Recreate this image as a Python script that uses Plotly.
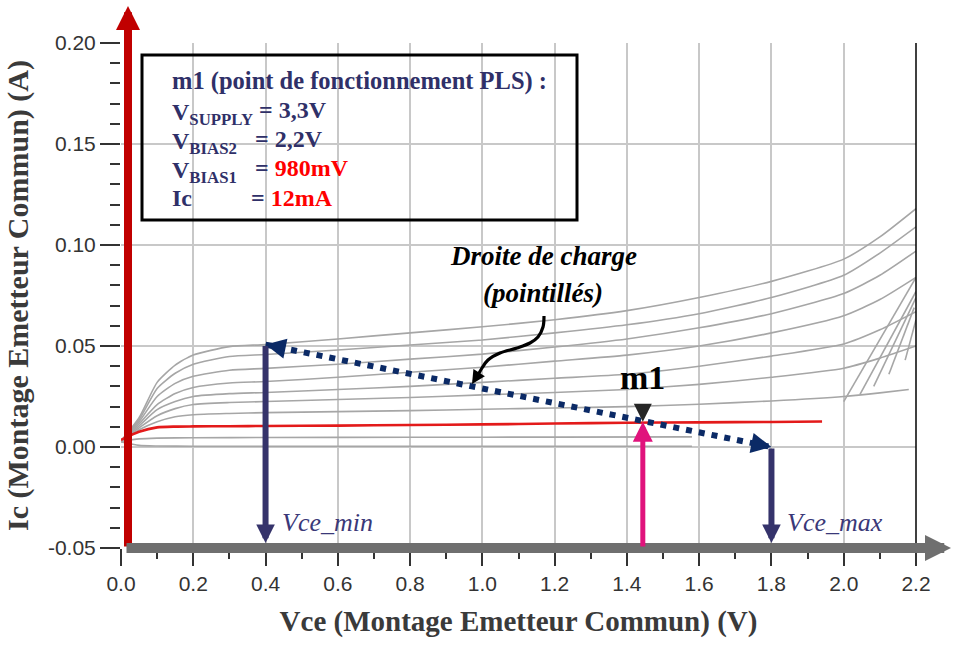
import plotly.graph_objects as go

# Caracteristiques Ic = f(Vce) du transistor
vce = [0.0, 0.05, 0.1, 0.15, 0.2, 0.3, 0.4, 0.6, 0.8, 1.0, 1.2, 1.4, 1.6, 1.8, 2.0, 2.1, 2.2]
ic_c1 = [0.003, 0.0145, 0.032, 0.0405, 0.0455, 0.0497, 0.0507, 0.0535, 0.0565, 0.0595, 0.063, 0.0675, 0.074, 0.082, 0.093, 0.104, 0.118]
ic_c2 = [0.003, 0.0135, 0.029, 0.0365, 0.041, 0.0448, 0.0458, 0.048, 0.0505, 0.053, 0.0565, 0.0605, 0.066, 0.074, 0.085, 0.096, 0.109]
ic_c3 = [0.003, 0.0125, 0.025, 0.0315, 0.035, 0.038, 0.0389, 0.041, 0.0435, 0.046, 0.0495, 0.0535, 0.059, 0.066, 0.076, 0.085, 0.097]
ic_c4 = [0.003, 0.0115, 0.021, 0.0265, 0.0295, 0.0317, 0.0324, 0.0345, 0.037, 0.0395, 0.0425, 0.0455, 0.050, 0.0565, 0.065, 0.073, 0.084]
ic_c5 = [0.003, 0.0105, 0.0185, 0.0225, 0.025, 0.0264, 0.027, 0.0285, 0.030, 0.032, 0.034, 0.036, 0.040, 0.045, 0.051, 0.058, 0.067]
ic_c6 = [0.003, 0.0095, 0.0155, 0.019, 0.021, 0.022, 0.0225, 0.0235, 0.0245, 0.0258, 0.027, 0.0285, 0.031, 0.0345, 0.039, 0.044, 0.050]
vce_c7 = [0.0, 0.05, 0.1, 0.15, 0.2, 0.3, 0.4, 0.6, 0.8, 1.0, 1.2, 1.4, 1.6, 1.8, 2.0, 2.1, 2.18]
ic_c7 = [0.003, 0.0085, 0.0125, 0.015, 0.016, 0.0166, 0.017, 0.0175, 0.018, 0.0187, 0.0193, 0.020, 0.0212, 0.0228, 0.025, 0.0268, 0.0285]

# courbe de polarisation retenue (en rouge)
vce_red = [0.0, 0.05, 0.1, 0.15, 0.2, 0.3, 0.4, 0.6, 0.8, 1.0, 1.2, 1.4, 1.6, 1.8, 1.94]
ic_red = [0.0035, 0.0075, 0.0097, 0.0101, 0.0102, 0.0103, 0.0104, 0.0106, 0.0109, 0.0112, 0.0116, 0.012, 0.0122, 0.0124, 0.0126]

# courbes basses
vce_low = [0.0, 0.05, 0.1, 0.2, 0.4, 0.8, 1.2, 1.58]
ic_low1 = [0.0028, 0.0040, 0.0044, 0.0046, 0.0047, 0.0048, 0.0049, 0.0050]
ic_low2 = [0.0025, 0.0008, 0.0005, 0.0004, 0.0004, 0.0004, 0.0004, 0.0004]

# segments raides vers 2.0-2.2 V
fan_vce_bas = [2.0, 2.045, 2.083, 2.125, 2.17]
fan_ic_bas = [0.0225, 0.026, 0.030, 0.036, 0.043]
fan_vce_haut = [2.2, 2.2, 2.2, 2.195, 2.2]
fan_ic_haut = [0.084, 0.077, 0.074, 0.069, 0.063]

# droite de charge et point m1
vce_min = 0.4
vce_max = 1.8
ic_max = 0.0507
m1_vce = 1.444
m1_ic = 0.0125

# graduations
x_ticks = [0.0, 0.2, 0.4, 0.6, 0.8, 1.0, 1.2, 1.4, 1.6, 1.8, 2.0, 2.2]
x_labels = ["0.0", "0.2", "0.4", "0.6", "0.8", "1.0", "1.2", "1.4", "1.6", "1.8", "2.0", "2.2"]
y_ticks = [-0.05, 0.0, 0.05, 0.10, 0.15, 0.20]
y_labels = ["-0.05", "0.00", "0.05", "0.10", "0.15", "0.20"]

# texte de l'encadre
box_labels = ["V<sub>SUPPLY</sub>", "V<sub>BIAS2</sub>", "V<sub>BIAS1</sub>", "Ic"]
box_values = ["= 3,3V", "= 2,2V",
              "= <span style='color:#ff0000'>980mV</span>",
              "= <span style='color:#ff0000'>12mA</span>"]

SERIF = "Liberation Serif"
SANS = "Liberation Sans"
NAVY_TXT = "#2f3068"

# zone de trace en pixels
L, R, T, B = 121, 916, 43, 548
X0, X1, Y0, Y1 = 0.0, 2.2, -0.05, 0.20


def px_x(p):
    return (p - L) / (R - L)


def px_y(p):
    return (B - p) / (B - T)


def vce_of(p):
    return X0 + (p - L) / (R - L) * (X1 - X0)


def ic_of(p):
    return Y0 + (B - p) / (B - T) * (Y1 - Y0)


fig = go.Figure()

grey = "#a6a6a6"
for ys in [ic_c1, ic_c2, ic_c3, ic_c4, ic_c5, ic_c6]:
    fig.add_trace(go.Scatter(x=vce, y=ys, mode="lines",
                             line=dict(color=grey, width=1.6, shape="spline", smoothing=0.6)))
fig.add_trace(go.Scatter(x=vce_c7, y=ic_c7, mode="lines",
                         line=dict(color=grey, width=1.6, shape="spline", smoothing=0.6)))
for ys in [ic_low1, ic_low2]:
    fig.add_trace(go.Scatter(x=vce_low, y=ys, mode="lines",
                             line=dict(color=grey, width=1.6, shape="spline", smoothing=0.6)))
for i in range(len(fan_vce_bas)):
    fig.add_trace(go.Scatter(x=[fan_vce_bas[i], fan_vce_haut[i]],
                             y=[fan_ic_bas[i], fan_ic_haut[i]], mode="lines",
                             line=dict(color=grey, width=1.6)))

fig.add_trace(go.Scatter(x=vce_red, y=ic_red, mode="lines",
                         line=dict(color="#e31a1a", width=2.6, shape="spline", smoothing=0.6)))

# droite de charge en pointilles
fig.add_trace(go.Scatter(x=[vce_min, vce_max], y=[ic_max, 0.0], mode="lines",
                         line=dict(color="#0b2a66", width=6, dash="6px,7px")))

# fleche courbe (pixels)
curve_px = [(544, 316), (543, 327), (538, 337), (530, 343), (517, 348),
            (500, 353), (488, 360), (482, 368), (477, 377)]
fig.add_trace(go.Scatter(x=[vce_of(a) for a, b in curve_px],
                         y=[ic_of(b) for a, b in curve_px], mode="lines",
                         line=dict(color="black", width=3.2, shape="spline")))

ann = []
# axe vertical rouge
ann.append(dict(xref="paper", yref="paper", x=px_x(128), y=px_y(6), axref="pixel", ayref="pixel",
                ax=0, ay=542, text="", showarrow=True, arrowhead=2, arrowwidth=8,
                arrowsize=0.6, arrowcolor="#c00000"))
# axe horizontal gris
ann.append(dict(xref="paper", yref="paper", x=px_x(951), y=0, axref="pixel", ayref="pixel",
                ax=-826, ay=0, text="", showarrow=True, arrowhead=2, arrowwidth=10,
                arrowsize=0.52, arrowcolor="#6f6f6f"))
# fleches Vce_min et Vce_max
for xv, ytop in [(vce_min, ic_max), (vce_max, 0.0)]:
    ann.append(dict(xref="x", yref="y", x=xv, y=Y0, axref="x", ayref="y", ax=xv, ay=ytop,
                    text="", showarrow=True, arrowhead=2, arrowwidth=6, arrowsize=0.62,
                    standoff=5, arrowcolor="#35336b"))
# fleche rose vers m1
ann.append(dict(xref="x", yref="y", x=m1_vce, y=m1_ic, axref="x", ayref="y", ax=m1_vce, ay=Y0,
                text="", showarrow=True, arrowhead=2, arrowwidth=5, arrowsize=0.8,
                arrowcolor="#e0137c"))
# marqueur m1
ann.append(dict(xref="x", yref="y", x=m1_vce, y=m1_ic, axref="pixel", ayref="pixel", ax=0, ay=-12,
                text="", showarrow=True, arrowhead=2, arrowwidth=4, arrowsize=0.9,
                arrowcolor="#262626"))
ann.append(dict(xref="x", yref="y", x=m1_vce, y=m1_ic, yshift=44, text="<b>m1</b>", showarrow=False,
                font=dict(family=SERIF, size=34, color="black")))

# pointes de la droite de charge
dx = (vce_max - vce_min) / (X1 - X0) * (R - L)
dy = ic_max / (Y1 - Y0) * (B - T)
n = (dx ** 2 + dy ** 2) ** 0.5
ux, uy = dx / n, dy / n
ann.append(dict(xref="x", yref="y", x=vce_min, y=ic_max, axref="pixel", ayref="pixel",
                ax=14 * ux, ay=14 * uy, text="", showarrow=True, arrowhead=2, arrowwidth=3,
                arrowsize=1.35, arrowcolor="#0b2a66"))
ann.append(dict(xref="x", yref="y", x=vce_max, y=0.0, axref="pixel", ayref="pixel",
                ax=-14 * ux, ay=-14 * uy, text="", showarrow=True, arrowhead=2, arrowwidth=3,
                arrowsize=1.35, arrowcolor="#0b2a66"))
# pointe de la fleche courbe
ann.append(dict(xref="x", yref="y", x=vce_of(472), y=ic_of(384), axref="pixel", ayref="pixel",
                ax=5, ay=-8, text="", showarrow=True, arrowhead=2, arrowwidth=3, arrowsize=0.9,
                arrowcolor="black"))

# etiquettes Vce_min / Vce_max
for xv, t in [(vce_min, "Vce_min"), (vce_max, "Vce_max")]:
    ann.append(dict(xref="x", yref="y", x=xv, y=Y0, xanchor="left", yanchor="middle",
                    xshift=14, yshift=26, text="<i>" + t + "</i>", showarrow=False,
                    font=dict(family=SERIF, size=26, color="#3a3878")))

# texte droite de charge
ann.append(dict(xref="paper", yref="paper", x=px_x(543), y=px_y(256), yanchor="middle",
                text="<b><i>Droite de charge</i></b>",
                showarrow=False, font=dict(family=SERIF, size=27, color="black")))
ann.append(dict(xref="paper", yref="paper", x=px_x(543), y=px_y(293), yanchor="middle",
                text="<b><i>(pointillés)</i></b>",
                showarrow=False, font=dict(family=SERIF, size=27, color="black")))

# encadre
ann.append(dict(xref="paper", yref="paper", x=px_x(170), y=px_y(81), xanchor="left", yanchor="middle",
                text="<b>m1 (point de fonctionnement PLS) :</b>", showarrow=False,
                font=dict(family=SERIF, size=24.5, color=NAVY_TXT)))
row_y = [110, 139, 168, 198]
eq_x = [257, 253, 253, 249]
for i in range(4):
    ann.append(dict(xref="paper", yref="paper", x=px_x(170), y=px_y(row_y[i]), xanchor="left",
                    yanchor="middle", yshift=-4 if i < 3 else 0, text="<b>" + box_labels[i] + "</b>",
                    showarrow=False, font=dict(family=SERIF, size=24, color=NAVY_TXT)))
    ann.append(dict(xref="paper", yref="paper", x=px_x(eq_x[i]), y=px_y(row_y[i]), xanchor="left",
                    yanchor="middle", text="<b>" + box_values[i] + "</b>", showarrow=False,
                    font=dict(family=SERIF, size=24, color=NAVY_TXT)))

shapes = [
    dict(type="rect", xref="paper", yref="paper", x0=px_x(142), x1=px_x(577),
         y0=px_y(55), y1=px_y(220), line=dict(color="black", width=3)),
    dict(type="line", xref="paper", yref="paper", x0=1, x1=1, y0=0, y1=1,
         line=dict(color="black", width=1.5)),
]

fig.update_layout(
    width=953, height=646,
    margin=dict(l=L, r=953 - R, t=T, b=646 - B, autoexpand=False),
    plot_bgcolor="white", paper_bgcolor="white",
    showlegend=False,
    annotations=ann, shapes=shapes,
    xaxis=dict(range=[X0, X1], tickvals=x_ticks, ticktext=x_labels, showgrid=True,
               gridcolor="#c8c8c8", gridwidth=2, zeroline=False, showline=False, automargin=False,
               ticks="outside", ticklen=17, tickwidth=1.5, tickcolor="#333",
               minor=dict(dtick=0.1, ticks="outside", ticklen=10, tickcolor="#333", showgrid=False),
               tickfont=dict(family=SANS, size=21, color="#333"),
               title=dict(text="<b>Vce (Montage Emetteur Commun) (V)</b>", standoff=16,
                          font=dict(family=SERIF, size=29, color="#3a3a3a"))),
    yaxis=dict(range=[Y0, Y1], tickvals=y_ticks, ticktext=y_labels, showgrid=True,
               gridcolor="#c8c8c8", gridwidth=2, zeroline=False, showline=False, automargin=False,
               ticks="outside", ticklen=20, tickwidth=1.5, tickcolor="#333",
               minor=dict(dtick=0.01, ticks="outside", ticklen=10, tickcolor="#333", showgrid=False),
               tickfont=dict(family=SANS, size=21, color="#333"),
               title=dict(text="<b>Ic (Montage Emetteur Commun) (A)</b>", standoff=10,
                          font=dict(family=SERIF, size=30, color="#3a3a3a"))),
)

# la page html ajoute une marge de 8 px autour du graphique : on la retire
fig.write_html("out.html", config={"displayModeBar": False},
               post_script="document.body.style.margin='0';")
